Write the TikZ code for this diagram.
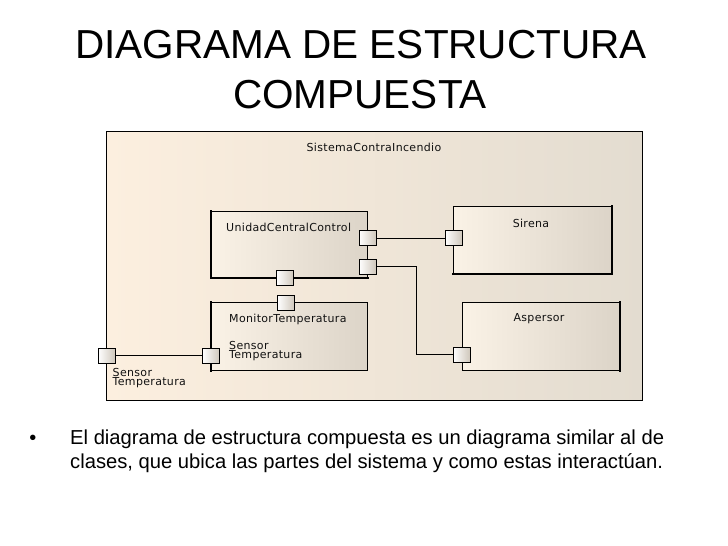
\documentclass[tikz,border=0pt]{standalone}
\usepackage{fontspec}
\setmainfont{Liberation Sans}
\newfontfamily\diagfont[LetterSpace=3]{DejaVu Sans}
\definecolor{frameL}{HTML}{FCEFDF}
\definecolor{frameR}{HTML}{E3DCD0}
\definecolor{boxL}{HTML}{FAF2E6}
\definecolor{boxR}{HTML}{DCD4C8}
\definecolor{portL}{HTML}{FFFFFF}
\definecolor{portR}{HTML}{CFC7BB}
\definecolor{dtext}{HTML}{111111}
\begin{document}
\begin{tikzpicture}[x=1pt,y=-1pt,
  partbox/.style={draw=black, line width=1pt, left color=boxL, right color=boxR, inner sep=0pt, anchor=north west},
  port/.style={draw=black, line width=0.9pt, left color=portL, right color=portR, inner sep=0pt, minimum width=17pt, minimum height=15pt},
  conn/.style={draw=black, line width=0.9pt},
  dlabel/.style={font=\diagfont\fontsize{11}{12}\selectfont, text=dtext, inner sep=0pt},
  thick edge/.style={line width=2pt, line cap=rect}
]
\useasboundingbox (0,0) rectangle (728,546);
\fill[white] (0,0) rectangle (728,546);

% titles
\node[anchor=base, font=\fontsize{40.5}{48}\selectfont, inner sep=0pt] (t1) at (361,58) {DIAGRAMA DE ESTRUCTURA};
\node[anchor=base, font=\fontsize{40.5}{48}\selectfont, inner sep=0pt] (t2) at (360,108) {COMPUESTA};

% frame
\node[draw=black, line width=1pt, left color=frameL, right color=frameR, inner sep=0pt,
      minimum width=536pt, minimum height=269pt, anchor=north west] (frame) at (106,131) {};
\node[dlabel] (ftitle) at (374,147) {SistemaContraIncendio};

% parts
\node[partbox, minimum width=156pt, minimum height=66pt] (ucc) at (211,211) {};
\node[partbox, minimum width=158pt, minimum height=67pt] (sir) at (453,206) {};
\node[partbox, minimum width=156pt, minimum height=68pt] (mon) at (211,302) {};
\node[partbox, minimum width=157pt, minimum height=68pt] (asp) at (462,302) {};

% thicker edges
\draw[thick edge] (ucc.north west) -- (ucc.south west) -- (ucc.south east);
\draw[thick edge] (sir.north east) -- (sir.south east) -- (sir.south west);
\draw[thick edge] (asp.north east) -- (asp.south east);
\draw[thick edge] (mon.north west) -- (mon.south west);

% labels
\node[dlabel, anchor=west] (luc) at (226,227) {UnidadCentralControl};
\node[dlabel] (lsir) at (531,223) {Sirena};
\node[dlabel, anchor=west] (lmon) at (229,319) {MonitorTemperatura};
\node[dlabel] (lasp) at (539,319) {Aspersor};
\node[dlabel, anchor=west] (ls1) at (229,345) {Sensor};
\node[dlabel, anchor=west] (ls2) at (229,356) {Temperatura};
\node[dlabel, anchor=west] (lo1) at (112.5,372) {Sensor};
\node[dlabel, anchor=west] (lo2) at (112.5,383) {Temperatura};

% ports
\node[port] (pu1) at (367.5,238) {};
\node[port] (pu2) at (367.5,266.5) {};
\node[port] (pub) at (285,277.5) {};
\node[port] (pmt) at (286,303) {};
\node[port] (psi) at (453.5,238) {};
\node[port] (pas) at (461.5,354.5) {};
\node[port] (pml) at (211,355.5) {};
\node[port] (pout) at (106.5,355.5) {};

% connectors
\coordinate (bend) at (416,266.5);
\draw[conn] (pu1.east) -- (psi.west);
\draw[conn] (pu2.east) -- (bend) |- (pas.west);
\draw[conn] (pub.south) -- (pub.south -| pmt.north);
\draw[conn] (pout.east) -- (pml.west);

% bullet text
\node[anchor=base, font=\fontsize{20}{24}\selectfont, inner sep=0pt] (bul) at (33,444) {•};
\node[anchor=base west, font=\fontsize{20.2}{24}\selectfont, inner sep=0pt] (b1) at (70,444) {El diagrama de estructura compuesta es un diagrama similar al de};
\node[anchor=base west, font=\fontsize{20.2}{24}\selectfont, inner sep=0pt] (b2) at (70,468) {clases, que ubica las partes del sistema y como estas interactúan.};
\end{tikzpicture}
\end{document}
